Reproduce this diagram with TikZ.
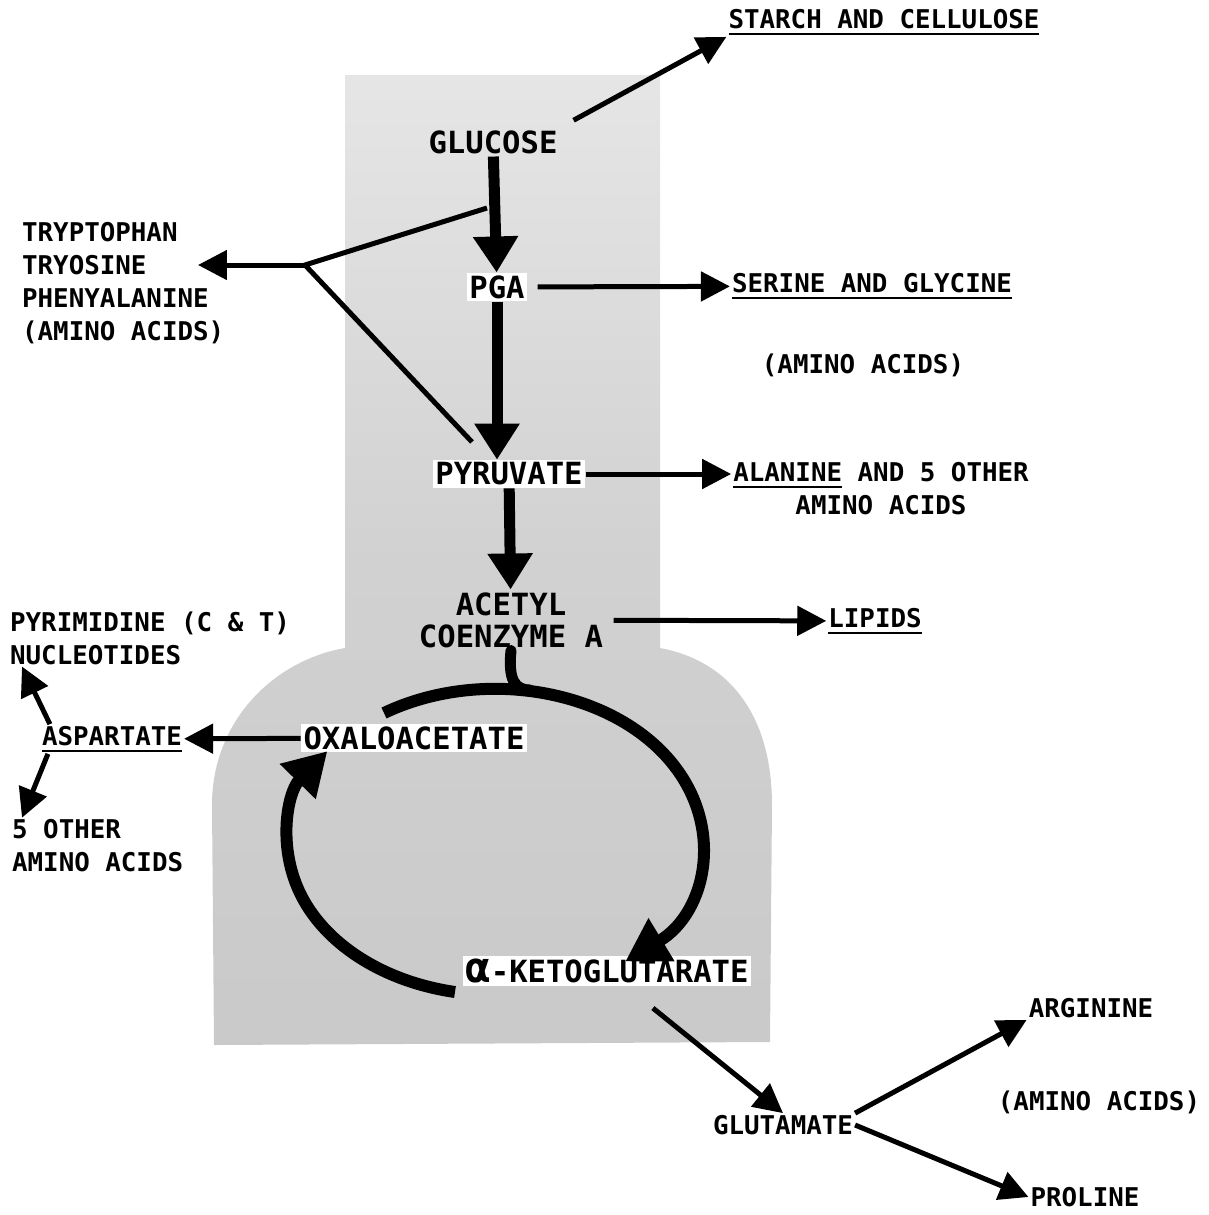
\documentclass[tikz,border=0pt]{standalone}
\usepackage{fontspec}
\setmainfont{DejaVu Sans Mono}
\usetikzlibrary{positioning, arrows.meta, calc}

\newsavebox{\ulbox}
\newcommand{\undl}[1]{\sbox{\ulbox}{#1}\rlap{\raisebox{-3.6pt}{\rule{\wd\ulbox}{1.1pt}}}\usebox{\ulbox}}
\newcommand{\mainsize}{\fontsize{17.4}{18.2}\selectfont\bfseries}
\newcommand{\sidesize}{\fontsize{14.7}{18.7}\selectfont\bfseries}

\begin{document}
\begin{tikzpicture}[
    x=0.02cm, y=-0.02cm,
    metab/.style={font=\mainsize, inner sep=1.5pt},
    knock/.style={metab, fill=white},
    prod/.style={font=\sidesize, inner sep=1pt},
    arr/.style={-{Triangle[length=0.58cm, width=0.58cm]}, line width=0.1cm},
    bigarr/.style={-{Triangle[length=0.72cm, width=0.86cm]}, line width=0.22cm},
    branch/.style={line width=0.1cm},
    cycarr/.style={-{Triangle[length=0.85cm, width=0.95cm]}, line width=0.24cm},
  ]
    \useasboundingbox (0,0) rectangle (1209,1215);

    % shaded flask behind the pathway
    \path[top color=gray!20, bottom color=gray!42, middle color=gray!36]
      (345,75) -- (660,75) -- (660,648)
      .. controls (735,662) and (772,722) .. (772,805)
      -- (770,1042) -- (214,1045) -- (212,805)
      .. controls (212,720) and (275,660) .. (345,648) -- cycle;

    \node[metab] (glucose) at (493,142) {GLUCOSE};
    \node[prod]  (starch)  at (884,22)  {\undl{STARCH AND CELLULOSE}};
    \node[knock] (pga)     at (497,287) {PGA};
    \node[prod]  (serine)  at (872,286) {\undl{SERINE AND GLYCINE}};
    \node[prod]  (aaSer)   at (863,365) {(AMINO ACIDS)};
    \node[prod, align=left, anchor=west] (arom) at (20,283)
      {TRYPTOPHAN\\TRYOSINE\\PHENYALANINE\\(AMINO ACIDS)};

    \node[knock] (pyr) at (509,474) {PYRUVATE};
    \node[prod, align=center] (ala) at (881,489) {\undl{ALANINE} AND 5 OTHER\\AMINO ACIDS};
    \node[metab, align=center] (acoa) at (511,620) {ACETYL\\COENZYME A};
    \node[prod] (lipids) at (875,621) {\undl{LIPIDS}};

    \node[prod, align=left, anchor=west] (pyrim) at (8,638) {PYRIMIDINE (C \& T)\\NUCLEOTIDES};
    \node[prod]  (asp) at (112,739) {\undl{ASPARTATE}};
    \node[knock] (oaa) at (414,738) {OXALOACETATE};
    \node[prod, align=left, anchor=west] (other5) at (10,846) {5 OTHER\\AMINO ACIDS};
    \node[knock] (akg) at (607,971) {{\fontsize{24}{24}\selectfont α}-KETOGLUTARATE};

    \node[prod] (glu)   at (783,1125)  {GLUTAMATE};
    \node[prod] (arg)   at (1091,1008) {ARGININE};
    \node[prod] (aaGlu) at (1099,1102) {(AMINO ACIDS)};
    \node[prod] (pro)   at (1085,1197) {PROLINE};

    \coordinate (fork)    at (305,265);
    \coordinate (brA)     at (487,208);
    \coordinate (brB)     at (472,442);
    \coordinate (aromIn)  at (198,265);
    \coordinate (tcaTop)  at (384,713);
    \coordinate (tcaBot)  at (455,992);
    \coordinate (tcaJoin) at (530,690);

    % main line
    \draw[bigarr] (glucose) -- (pga);
    \draw[bigarr] (pga.south) -- (pga.south |- pyr.north);
    \draw[bigarr] (pyr) -- (acoa);

    % side products
    \draw[arr, shorten <=0.3cm] (glucose.north east) -- (starch.south west);
    \draw[arr, shorten <=0.2cm] (pga) -- (serine);
    \draw[arr] (pyr.east) -- (pyr.east -| ala.west);
    \draw[arr, shorten <=0.15cm] (acoa) -- (lipids);
    \draw[branch] (brA) -- (fork) -- (brB);
    \draw[arr] (fork) -- (aromIn);

    \draw[arr] (oaa) -- (asp);
    \draw[arr] ($(asp.north west)+(10,0)$) -- ($(pyrim.south west)+(14,0)$);
    \draw[arr] ($(asp.south west)+(8,0)$) -- ($(other5.north west)+(12,0)$);

    \draw[arr, shorten <=0.7cm] (akg) -- (glu.north);
    \draw[arr] (glu.north east) -- (arg.south west);
    \draw[arr] (glu.east) -- (pro.west);

    % cycle
    \draw[cycarr] (tcaTop) arc[start angle=122.6, end angle=-51, x radius=4.13cm, y radius=3.07cm];
    \draw[cycarr] (tcaBot) arc[start angle=259, end angle=144, x radius=4.13cm, y radius=3.07cm];
    \draw[line width=0.22cm, line cap=round] (acoa.south) .. controls (508,680) and (515,690) .. (tcaJoin);
\end{tikzpicture}
\end{document}
